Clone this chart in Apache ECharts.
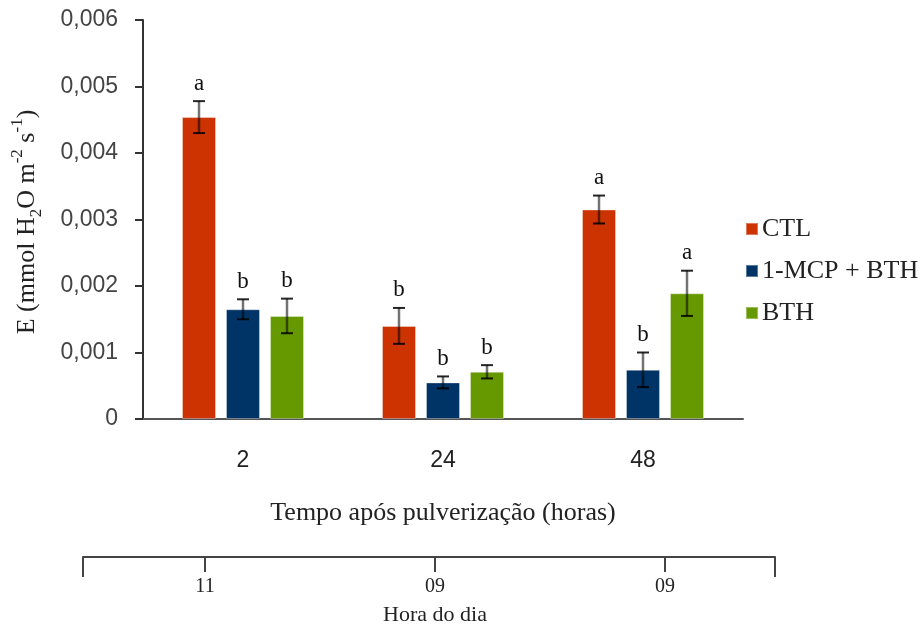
<!DOCTYPE html>
<html>
<head>
<meta charset="utf-8">
<script src="https://cdn.jsdelivr.net/npm/echarts@6/dist/echarts.min.js"></script>
<style>
html,body{margin:0;padding:0;background:#fff;}
#chart{width:921px;height:629px;}
</style>
</head>
<body>
<div id="chart"></div>
<script>
// ---- data ----
const categories = ['2', '24', '48'];
const seriesNames = ['CTL', '1-MCP + BTH', 'BTH'];
const ctl = [0.00454, 0.00140, 0.00315];
const mcpBth = [0.00165, 0.00055, 0.00074];
const bth = [0.00155, 0.00071, 0.00189];
const ctlErr = [0.00024, 0.00027, 0.00021];
const mcpBthErr = [0.00015, 0.00009, 0.00026];
const bthErr = [0.00026, 0.00010, 0.00034];
const ctlLetters = ['a', 'b', 'a'];
const mcpBthLetters = ['b', 'b', 'b'];
const bthLetters = ['b', 'b', 'a'];
const hourLabels = ['11', '09', '09'];
const xAxisTitle = 'Tempo após pulverização (horas)';
const hourAxisTitle = 'Hora do dia';

// ---- styling ----
const colors = ['#CC3300', '#003366', '#669900'];
const BAR_W = 34, BAR_GAP = 10;
const serif = '"Liberation Serif", "Times New Roman", serif';
const sans = '"Liberation Sans", Arial, sans-serif';

const values = [ctl, mcpBth, bth];
const errs = [ctlErr, mcpBthErr, bthErr];
const letters = [ctlLetters, mcpBthLetters, bthLetters];

const chart = echarts.init(document.getElementById('chart'), null, {renderer: 'canvas'});

const barSeries = values.map((vals, k) => ({
  type: 'bar',
  name: seriesNames[k],
  xAxisIndex: 0, yAxisIndex: 0,
  data: vals,
  barWidth: BAR_W,
  barGap: (BAR_GAP / BAR_W * 100) + '%',
  itemStyle: {color: colors[k], borderColor: 'rgba(255,255,255,0.35)', borderWidth: 1},
  emphasis: {disabled: true},
  animation: false
}));

const errSeries = values.map((vals, k) => ({
  type: 'custom',
  name: seriesNames[k] + '_err',
  xAxisIndex: 0, yAxisIndex: 0,
  data: vals.map((v, i) => [i, v, errs[k][i]]),
  z: 10,
  animation: false,
  renderItem: function (params, api) {
    const i = api.value(0), v = api.value(1), e = api.value(2);
    const c = api.coord([i, v]);
    const x = c[0] + (k - 1) * (BAR_W + BAR_GAP);
    const yt = api.coord([i, v + e])[1];
    const yb = api.coord([i, v - e])[1];
    const cap = 6;
    return {
      type: 'group',
      children: [
        {type: 'line', shape: {x1: x, y1: yt, x2: x, y2: yb}, style: {stroke: 'rgba(0,0,0,0.55)', lineWidth: 2.5}},
        {type: 'line', shape: {x1: x - cap, y1: yt, x2: x + cap, y2: yt}, style: {stroke: 'rgba(0,0,0,0.85)', lineWidth: 2}},
        {type: 'line', shape: {x1: x - cap, y1: yb, x2: x + cap, y2: yb}, style: {stroke: 'rgba(0,0,0,0.85)', lineWidth: 2}},
        {type: 'text', style: {text: letters[k][params.dataIndex], x: x, y: yt - 6, align: 'center', verticalAlign: 'bottom',
          font: '23px ' + serif, fill: '#111'}}
      ]
    };
  }
}));

const option = {
  backgroundColor: '#fff',
  animation: false,
  legend: {
    orient: 'vertical',
    left: 740, top: 211,
    data: seriesNames,
    icon: 'rect',
    itemWidth: 12, itemHeight: 12,
    itemGap: 16,
    selectedMode: false,
    textStyle: {fontFamily: serif, fontSize: 26, lineHeight: 26, color: '#222', padding: [0, 0, 0, -1]}
  },
  grid: [
    {left: 143, top: 20, width: 600, height: 399},
    {left: 83, top: 556, width: 692, height: 1},
    {left: 90, top: 556, width: 690, height: 1}
  ],
  xAxis: [
    {
      type: 'category', gridIndex: 0, data: categories,
      axisLine: {lineStyle: {color: '#555', width: 2}},
      axisTick: {show: false},
      axisLabel: {fontFamily: sans, fontSize: 23, color: '#222', margin: 30},
      name: xAxisTitle, nameLocation: 'middle', nameGap: 81,
      nameTextStyle: {fontFamily: serif, fontSize: 26, color: '#222'}
    },
    {
      type: 'value', gridIndex: 1, min: 0, max: 1, interval: 1,
      axisLine: {show: true, lineStyle: {color: '#444', width: 2}},
      axisTick: {show: true, length: 20, lineStyle: {color: '#444', width: 2}},
      axisLabel: {show: false}, splitLine: {show: false}
    },
    {
      type: 'category', gridIndex: 2, data: hourLabels,
      axisLine: {show: false},
      axisTick: {show: true, alignWithLabel: true, length: 15, lineStyle: {color: '#444', width: 2}},
      axisLabel: {fontFamily: serif, fontSize: 20, color: '#222', margin: 20},
      name: hourAxisTitle, nameLocation: 'middle', nameGap: 47,
      nameTextStyle: {fontFamily: serif, fontSize: 22, color: '#222'}
    }
  ],
  yAxis: [
    {
      type: 'value', gridIndex: 0, min: 0, max: 0.006, interval: 0.001,
      axisLine: {show: true, lineStyle: {color: '#333', width: 2}},
      axisTick: {show: true, length: 8, lineStyle: {color: '#333', width: 2}},
      splitLine: {show: false},
      axisLabel: {fontFamily: sans, fontSize: 23, color: '#444', margin: 25,
        formatter: v => v === 0 ? '0' : v.toFixed(3).replace('.', ',')}
    },
    {type: 'value', gridIndex: 1, show: false},
    {type: 'value', gridIndex: 2, show: false}
  ],
  graphic: [
    {
      type: 'text', x: 27, y: 222, rotation: Math.PI / 2,
      style: {
        text: '{n|E (mmol H}{sub|2}{n|O m}{sup|-2}{n| s}{sup|-1}{n|)}',
        align: 'center', verticalAlign: 'middle',
        rich: {
          n: {fontFamily: serif, fontSize: 26, fill: '#222', lineHeight: 36, verticalAlign: 'middle'},
          sub: {fontFamily: serif, fontSize: 17, fill: '#222', lineHeight: 36, verticalAlign: 'bottom'},
          sup: {fontFamily: serif, fontSize: 17, fill: '#222', lineHeight: 36, verticalAlign: 'top'}
        }
      }
    }
  ],
  series: [...barSeries, ...errSeries]
};
chart.setOption(option);
</script>
</body>
</html>
